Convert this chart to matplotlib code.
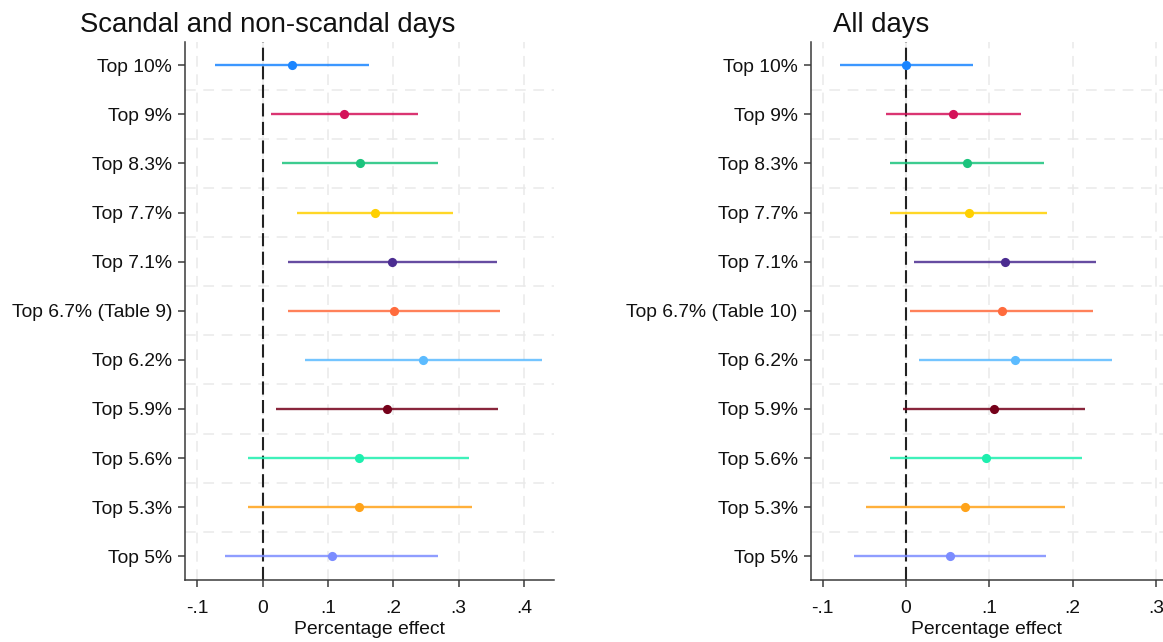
import matplotlib
matplotlib.use("Agg")
import matplotlib.pyplot as plt
import numpy as np

plt.rcParams['font.family'] = ['Liberation Sans', 'DejaVu Sans']

# ---------------- data ----------------
categories_left = ["Top 10%", "Top 9%", "Top 8.3%", "Top 7.7%", "Top 7.1%",
                   "Top 6.7% (Table 9)", "Top 6.2%", "Top 5.9%", "Top 5.6%",
                   "Top 5.3%", "Top 5%"]
categories_right = ["Top 10%", "Top 9%", "Top 8.3%", "Top 7.7%", "Top 7.1%",
                    "Top 6.7% (Table 10)", "Top 6.2%", "Top 5.9%", "Top 5.6%",
                    "Top 5.3%", "Top 5%"]

colors = ["#1A85FF", "#D41159", "#1BC47D", "#FFD000", "#4B2C91",
          "#FF6B3D", "#5CBBFF", "#75001A", "#1DEFAE", "#FFA319", "#7B8CFF"]

left_est = [0.045, 0.124, 0.149, 0.172, 0.198, 0.201, 0.246, 0.191, 0.147, 0.148, 0.106]
left_lo = [-0.073, 0.013, 0.030, 0.053, 0.039, 0.038, 0.065, 0.021, -0.0225, -0.023, -0.057]
left_hi = [0.162, 0.237, 0.268, 0.291, 0.358, 0.364, 0.427, 0.361, 0.316, 0.320, 0.269]

right_est = [0.000, 0.056, 0.073, 0.075, 0.119, 0.115, 0.131, 0.105, 0.096, 0.071, 0.053]
right_lo = [-0.079, -0.024, -0.019, -0.019, 0.0096, 0.005, 0.0156, -0.004, -0.019, -0.048, -0.062]
right_hi = [0.080, 0.138, 0.166, 0.169, 0.228, 0.2245, 0.247, 0.2145, 0.211, 0.191, 0.168]

left_ticks = [-0.1, 0, 0.1, 0.2, 0.3, 0.4]
left_ticklabels = ["-.1", "0", ".1", ".2", ".3", ".4"]
right_ticks = [-0.1, 0, 0.1, 0.2, 0.3]
right_ticklabels = ["-.1", "0", ".1", ".2", ".3"]

titles = ["Scandal and non-scandal days", "All days"]
xlabel = "Percentage effect"

# ---------------- figure ----------------
W, H = 1163, 642
fig = plt.figure(figsize=(W / 100, H / 100), dpi=100)

FS = 13.9
spine_col = "#3a3a3a"
grid_col = "#e9e9e9"


def panel(rect, cats, est, lo, hi, ticks, ticklabels, xlim):
    ax = fig.add_axes(rect)
    n = len(cats)
    ypos = np.arange(n)[::-1]  # first category on top
    for i in range(n):
        ax.plot([lo[i], hi[i]], [ypos[i], ypos[i]], color=colors[i], lw=1.7,
                alpha=0.85, solid_capstyle='butt', zorder=3)
        ax.plot([est[i]], [ypos[i]], 'o', color=colors[i], ms=6.6,
                markeredgewidth=0, zorder=4)
    ax.axvline(0, color="#222222", lw=1.5, ls=(0, (6.3, 2.6)), zorder=2)

    ax.set_xlim(*xlim)
    ax.set_ylim(-0.483, n - 1 + 0.48)
    ax.set_xticks(ticks)
    ax.set_xticklabels(ticklabels)
    ax.set_yticks(ypos)
    ax.set_yticklabels(cats)
    ax.set_yticks(np.arange(n - 1) + 0.5, minor=True)
    ax.tick_params(axis='y', which='minor', length=0)
    ax.grid(True, which='major', axis='x', color=grid_col, lw=1.1,
            ls=(0, (7, 5)), zorder=0)
    ax.grid(True, which='minor', axis='y', color=grid_col, lw=1.1,
            ls=(0, (7, 5)), zorder=0)
    ax.set_axisbelow(True)

    for s in ['top', 'right']:
        ax.spines[s].set_visible(False)
    for s in ['left', 'bottom']:
        ax.spines[s].set_color(spine_col)
        ax.spines[s].set_linewidth(1.1)
    ax.tick_params(axis='both', which='major', colors=spine_col, length=5,
                   width=1.1, labelsize=FS, labelcolor="#111111")
    ax.tick_params(axis='y', which='major', pad=4.3)
    ax.tick_params(axis='x', which='major', pad=9.2)
    ax.set_xlabel(xlabel, fontsize=FS, color="#111111", labelpad=3)
    return ax


axL = panel([185 / W, 1 - 580 / H, (554 - 185) / W, (580 - 41.7) / H],
            categories_left, left_est, left_lo, left_hi,
            left_ticks, left_ticklabels, (-0.119, 0.446))
axR = panel([810.7 / W, 1 - 580 / H, (1163 - 810.7) / W, (580 - 41.7) / H],
            categories_right, right_est, right_lo, right_hi,
            right_ticks, right_ticklabels, (-0.1144, 0.3084))

fig.text(80 / W, 1 - 32 / H, titles[0], fontsize=19.8, ha='left', va='baseline',
         color="#111111")
fig.text(833 / W, 1 - 32 / H, titles[1], fontsize=19.8, ha='left', va='baseline',
         color="#111111")

fig.savefig("out.png", dpi=100, facecolor="white")
